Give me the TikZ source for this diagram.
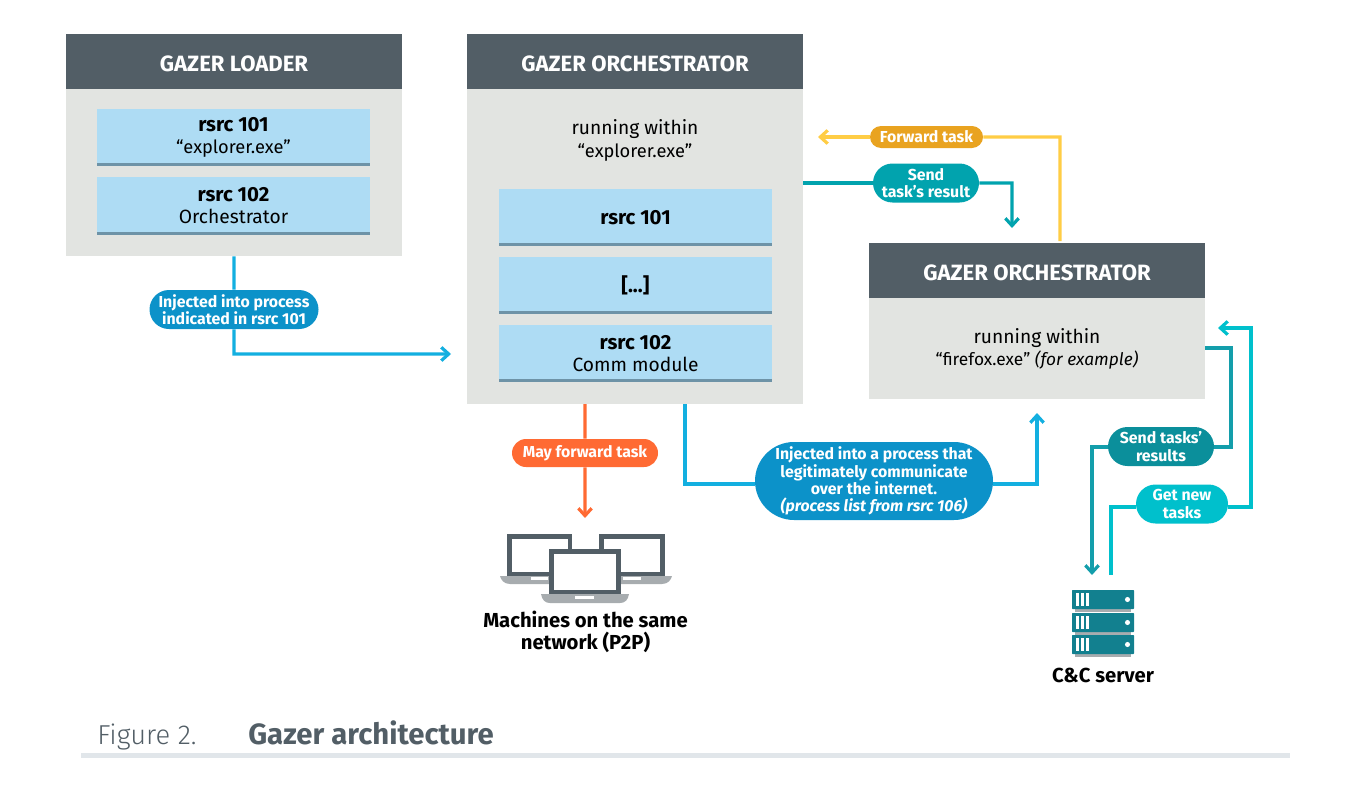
\documentclass[tikz,border=0pt]{standalone}
\usepackage{fontspec}
\setmainfont{Fira Sans}
\usetikzlibrary{arrows.meta,shapes.misc,backgrounds}
\definecolor{hdr}{HTML}{525E66}
\definecolor{bodyg}{HTML}{E2E4E1}
\definecolor{lblue}{HTML}{AEDCF4}
\definecolor{edgeb}{HTML}{6E93A7}
\definecolor{pblue}{HTML}{0C92C9}
\definecolor{lineb}{HTML}{13AFE0}
\definecolor{liney}{HTML}{FFCD45}
\definecolor{py}{HTML}{E9A320}
\definecolor{pteal}{HTML}{01A3AE}
\definecolor{pdteal}{HTML}{0B8F9B}
\definecolor{linedt}{HTML}{139EAB}
\definecolor{pcy}{HTML}{00C0CC}
\definecolor{orng}{HTML}{FF6A33}
\definecolor{srv}{HTML}{12808F}
\definecolor{lgrey}{HTML}{A7ACAF}
\definecolor{capbar}{HTML}{E1E6EA}
\tikzset{
 x=0.75pt,y=-0.75pt,
 hdrbox/.style={fill=hdr,text=white,minimum width={336*0.75pt},minimum height={55*0.75pt},inner sep=0,text height=15pt,text depth=0.4pt,font=\fontsize{16.6}{19}\selectfont\bfseries},
 bodybox/.style={fill=bodyg,minimum width={336*0.75pt},inner sep=0},
 blubox/.style={fill=lblue,minimum width={273*0.75pt},minimum height={57*0.75pt},inner sep=0,align=center,
   font=\fontsize{14.4}{16.5}\selectfont,
   path picture={\fill[edgeb] ([yshift=2.2pt]path picture bounding box.south west) rectangle (path picture bounding box.south east);}},
 txt/.style={align=center,inner sep=0,font=\fontsize{14.4}{17}\selectfont},
 blk/.style={align=center,inner sep=0,font=\fontsize{15.2}{16.5}\selectfont\bfseries},
 pill/.style={rounded rectangle,inner sep=0,text=white,align=center,font=\fontsize{11.9}{12.9}\selectfont\bfseries},
 conn/.style={line width=2.4pt,miter limit=10},
 tip/.style={-{Straight Barb[length=5.5pt,width=10pt,line width=2.4pt]}},
}
\newcommand{\rsrc}[1]{\textbf{\fontsize{15.3}{16.5}\selectfont #1}}
\newcommand{\qexe}[1]{{\fontsize{13.7}{16.5}\selectfont #1}}
\begin{document}
\begin{tikzpicture}
\useasboundingbox (0,0) rectangle (1352,792);
% Loader
\node[bodybox,minimum height={167*0.75pt}] (loaderbody) at (234,172.5) {};
\node[hdrbox] (loaderhdr) at (234,61.5) {GAZER LOADER};
\node[blubox] (l101) at (233.5,137.5) {\rsrc{rsrc 101}\\\qexe{“explorer.exe”}};
\node[blubox,minimum height={58*0.75pt}] (l102) at (233.5,206) {\rsrc{rsrc 102}\\Orchestrator};
% Orchestrator 1
\node[bodybox,minimum height={315*0.75pt}] (orchbody) at (635,246.5) {};
\node[hdrbox] (orchhdr) at (635,61.5) {GAZER ORCHESTRATOR};
\node[txt] (orchtxt) at (635,140.5) {running within\\\qexe{“explorer.exe”}};
\node[blubox] (o101) at (635.5,217.5) {\raisebox{-1.5pt}{\rsrc{rsrc 101}}};
\node[blubox] (odots) at (635.5,285.5) {\raisebox{-1.5pt}{\rsrc{[...]}}};
\node[blubox] (o102) at (635.5,353.5) {\rsrc{rsrc 102}\\Comm module};
% Orchestrator 2
\node[bodybox,minimum height={101*0.75pt}] (o2body) at (1037,348.5) {};
\node[hdrbox] (o2hdr) at (1037,270.5) {GAZER ORCHESTRATOR};
\node[txt] (o2txt) at (1037,349) {running within\\{\fontsize{13}{16.5}\selectfont “firefox.exe” \textit{(for example)}}};
% Pills
\node[pill,fill=pblue,minimum width={169*0.75pt},minimum height={39*0.75pt}] (pinj) at (234,309.5) {Injected into process\\indicated in rsrc 101};
\node[pill,fill=py,minimum width={113*0.75pt},minimum height={22*0.75pt}] (pfwd) at (926.5,137) {\raisebox{-0.7pt}{Forward task}};
\node[pill,fill=pteal,minimum width={106*0.75pt},minimum height={39*0.75pt}] (psend) at (926,183) {Send\\task's result};
\node[pill,fill=orng,minimum width={146*0.75pt},minimum height={28*0.75pt}] (pmay) at (585,453) {\raisebox{-0.7pt}{May forward task}};
\node[pill,fill=pblue,minimum width={238*0.75pt},minimum height={78*0.75pt}] (pinj2) at (874,481) {Injected into a process that\\legitimately communicate\\over the internet.\\\textit{(process list from rsrc 106)}};
\node[pill,fill=pdteal,minimum width={106*0.75pt},minimum height={39*0.75pt}] (presults) at (1161,446.5) {Send tasks'\\results};
\node[pill,fill=pcy,minimum width={92*0.75pt},minimum height={39*0.75pt}] (pget) at (1182,504) {Get new\\tasks};
% Free ends of the connectors
\coordinate (injend) at (451,354);
\coordinate (fwdstart) at (1060,241);
\coordinate (fwdend) at (818,137);
\coordinate (sendstart) at (803,183);
\coordinate (sendend) at (1012,228);
\coordinate (maystart) at (585,404);
\coordinate (mayend) at (585,518);
\coordinate (inj2start) at (685,404);
\coordinate (inj2end) at (1037,413);
\coordinate (resstart) at (1205,348);
\coordinate (resend) at (1092,575);
\coordinate (getstart) at (1111,575);
\coordinate (getend) at (1218,328);
% Connectors
\begin{scope}[on background layer]
\draw[conn,lineb] (loaderbody.south) -- (pinj);
\draw[conn,lineb,tip] (pinj) -- (234,354) -- (injend);
\draw[conn,liney] (fwdstart) -- (1060,137) -- (pfwd);
\draw[conn,liney,tip] (pfwd) -- (fwdend);
\draw[conn,pteal] (sendstart) -- (psend);
\draw[conn,pteal,tip] (psend) -- (1012,183) -- (sendend);
\draw[conn,orng] (maystart) -- (pmay);
\draw[conn,orng,tip] (pmay) -- (mayend);
\draw[conn,lineb] (inj2start) -- (685,484) -- (pinj2.west |- 0,484);
\draw[conn,lineb,tip] (pinj2.east |- 0,484) -- (1037,484) -- (inj2end);
\draw[conn,linedt] (resstart) -- (1231,348) -- (1231,447) -- (presults.east |- 0,447);
\draw[conn,linedt,tip] (presults.west |- 0,447) -- (1092,447) -- (resend);
\draw[conn,pcy] (getstart) -- (1111,507) -- (pget.west |- 0,507);
\draw[conn,pcy,tip] (pget.east |- 0,507) -- (1251,507) -- (1251,328) -- (getend);
\end{scope}
% Laptops
\fill[lgrey] (500,576) -- (552,576) -- (552,584) -- (510,584) .. controls (504,584) and (501,580) .. cycle;
\fill[white] (531,577) rectangle (548,580);
\fill[lgrey] (672,576) -- (620,576) -- (620,584) -- (662,584) .. controls (668,584) and (671,580) .. cycle;
\fill[white] (623,577) rectangle (641,580);
\fill[hdr] (507,534) rectangle (572,576);
\fill[white] (512,539) rectangle (568,572);
\fill[hdr] (599,534) rectangle (665,576);
\fill[white] (604,539) rectangle (660,572);
\fill[hdr] (549,549) rectangle (621,594);
\fill[white] (554,554) rectangle (616,590);
\fill[lgrey] (541,594) -- (629,594) .. controls (628,600) and (625,603) .. (620,603) -- (550,603) .. controls (545,603) and (542,600) .. cycle;
\fill[white] (575,596) rectangle (594,599);
\node[blk] (machines) at (585.5,632) {Machines on the same\\network (P2P)};
% Server
\foreach \yy in {590,613,635}{
  \fill[lgrey] (1075,\yy+19) rectangle (1131,\yy+22);
  \fill[srv,rounded corners=0.5pt] (1072,\yy) rectangle (1134,\yy+19);
  \foreach \xx in {1076,1081,1086}{\fill[white] (\xx,\yy+3) rectangle (\xx+2.5,\yy+16);}
  \fill[white] (1127.5,\yy+9.5) circle (1.9pt);
}
\node[blk] (cc) at (1103,675) {C\&C server};
% Caption
\node[anchor=base west,inner sep=0,font=\fontsize{20.5}{24}\selectfont\fontspec{Fira Sans Light},text=hdr] (figno) at (97,744) {Figure 2.};
\node[anchor=base west,inner sep=0,font=\fontsize{22}{24}\selectfont\bfseries,text=hdr] (figtitle) at (248,744) {Gazer architecture};
\fill[capbar] (81,753) rectangle (1290,758);
\end{tikzpicture}
\end{document}
